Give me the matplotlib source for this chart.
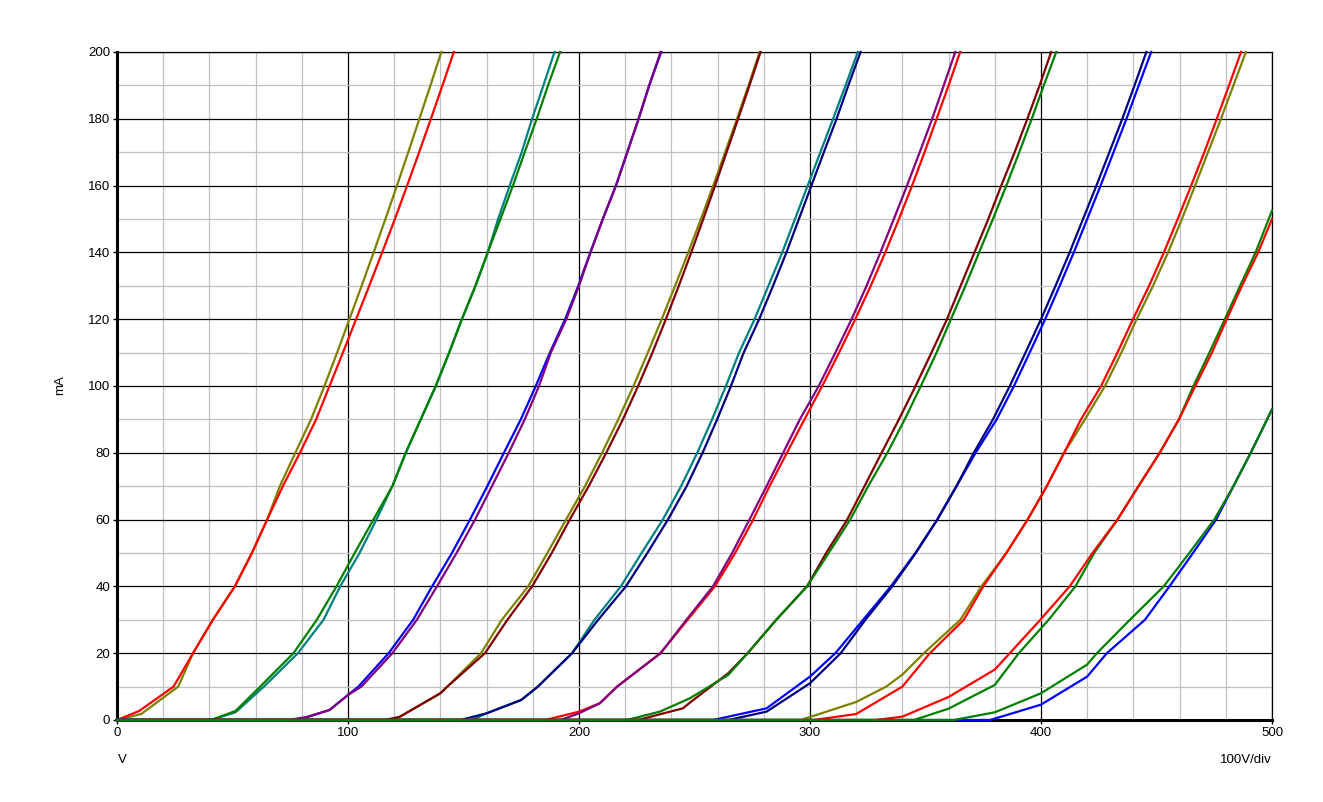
import numpy as np
import matplotlib
matplotlib.use("Agg")
import matplotlib.pyplot as plt

# plate curves: pairs of (V, mA) lists
lev = [20, 30, 40, 50, 60, 70, 80, 90, 100, 110, 120, 130, 140, 150, 160, 170, 180, 190, 200]

# pair 1
v1a = [0, 10.5, 26.5, 32.9, 41.5, 51, 58.4, 65, 70.5, 77.2, 84, 89.8, 95.3, 100.6, 105.9, 111.1, 116.2, 121.2, 126.1, 130.9, 135.7, 140.4]
i1a = [0, 1.8, 10] + lev
v1b = [0, 9.6, 24.5, 32.9, 41.5, 51, 58.4, 65, 71.8, 79.2, 86.2, 92, 97.8, 103.5, 109.2, 114.8, 120.3, 125.6, 130.8, 135.9, 140.9, 145.8]
i1b = [0, 2.7, 10] + lev
# pair 2
v2a = [0, 40.7, 51.3, 63.6, 78.3, 89.4, 96.6, 105, 112.3, 119.2, 125, 131.5, 138, 143.8, 149.3, 155.2, 160.5, 165, 170, 175.2, 179.7, 184.6, 189.4]
i2a = [0, 0, 2.3, 10] + lev
v2b = [0, 40.7, 51.3, 62, 76.4, 86.5, 95, 102.9, 111, 119.2, 125, 131.5, 138, 143.8, 149.3, 155.2, 160.5, 166, 171.4, 176.5, 181.7, 186.6, 191.8]
i2b = [0, 0, 2.7, 10] + lev
# pair 3
v3a = [0, 78, 92, 100, 104.5, 117.6, 128.2, 136.4, 145, 152.8, 160.3, 167.5, 174.8, 181.3, 187.4, 194, 199.7, 204.9, 210.3, 216, 220.9, 225.8, 230.4, 235.6]
i3a = [0, 0, 3, 7.5, 10] + lev
v3b = [0, 74.2, 83, 92, 100, 105.8, 119.2, 129.8, 138.5, 147, 155, 162.3, 169.6, 176.5, 182.7, 187.8, 194.5, 200, 205, 210.3, 216, 220.9, 225.8, 230.4, 235.3]
i3b = [0, 0, 1, 3, 7.5, 10] + lev
# pair 4
v4a = [0, 120, 140, 143, 157.6, 166.6, 178, 186.3, 194.4, 202.6, 210, 217, 223.6, 229.8, 235.8, 241.6, 247.3, 252.8, 258.1, 263.3, 268.4, 273.4, 278.2]
i4a = [0, 0, 8, 10] + lev
v4b = [0, 116, 122.5, 140, 143, 159.3, 169, 179.7, 188.2, 196, 204.2, 211.8, 219, 225.6, 231.8, 237.6, 243.2, 248.6, 253.8, 258.9, 263.9, 268.9, 273.8, 278.6]
i4b = [0, 0, 1, 8, 10] + lev
# pair 5
v5a = [0, 153.6, 160, 175, 182.2, 197, 206.7, 218.1, 227.1, 236.3, 244.2, 251.2, 257.6, 263.6, 269.3, 276, 282, 288, 293.5, 299, 304.5, 310, 315.4, 320.7]
i5a = [0, 0, 2, 6, 10] + lev
v5b = [0, 148.6, 160, 175, 182.2, 197, 208.3, 220.3, 229.6, 238.5, 246.6, 253.5, 259.8, 265.8, 271.3, 278, 284, 289.8, 295.2, 300.6, 306, 311.5, 316.6, 321.9]
i5b = [0, 0, 2, 6, 10] + lev
# pair 6
v6a = [0, 185.4, 200, 209, 216.5, 235.3, 247, 258.8, 267.6, 275.4, 282.5, 290, 297.6, 305.3, 312.6, 319.6, 326.3, 332.6, 338.5, 344.2, 349.6, 354.8, 360, 365]
i6a = [0, 0, 2.5, 5, 10] + lev
v6b = [0, 192, 200, 209, 216.5, 235.3, 246.5, 258, 266.3, 273.8, 281.2, 288.4, 295.6, 303.8, 311, 318, 324.5, 330.5, 336.3, 342, 347.5, 352.9, 357.9, 362.9]
i6b = [0, 0, 2, 5, 10] + lev
# pair 7
v7a = [0, 225.5, 245, 248, 264.6, 273, 285.4, 298.7, 307, 316.1, 323.6, 331, 338.5, 345.7, 352.6, 359.3, 365.2, 371.2, 377.2, 382.8, 388.6, 394.1, 399.4, 404.4]
i7a = [0, 0, 3.5, 5.2, 14] + lev
v7b = [0, 220.6, 235, 248, 264.6, 273, 285.4, 298.7, 308.1, 317.4, 325.2, 333.5, 341, 348, 354.8, 361, 367.3, 373.2, 379.2, 385, 390.6, 396, 401.2, 406.6]
i7b = [0, 0, 2.5, 6.5, 13.5] + lev
# pair 8
v8a = [0, 258, 281.2, 300, 311, 323, 335, 345.6, 355.1, 363.4, 371.7, 380.8, 388.3, 395.1, 401.8, 408.1, 414.2, 420, 425.8, 431.4, 437, 442.3, 447.7]
i8a = [0, 0, 3.5, 13] + lev
v8b = [0, 264.6, 281.2, 300, 313.3, 324, 335.6, 345.8, 355.1, 363.4, 370.9, 379.2, 386.5, 393.3, 400, 406.3, 412.4, 418.2, 424, 429.6, 435.2, 440.5, 445.6]
i8b = [0, 0, 2.5, 11] + lev
# pair 9
v9a = [0, 296, 320, 333, 340, 349.3, 365.1, 374.2, 385, 394.2, 402.5, 410, 419, 427.7, 434.8, 441.4, 448.5, 455, 461, 466.7, 472.3, 477.9, 483.3, 488.7]
i9a = [0, 0, 5.4, 10, 13.6] + lev
v9b = [0, 301.7, 320, 340, 351.9, 366.6, 375, 385, 394.2, 402.5, 410, 417.3, 426, 433.1, 439.8, 446.8, 453.2, 459.2, 465, 470.7, 476.1, 481.4, 486.6]
i9b = [0, 0, 1.8, 10] + lev
# pair 10
v10a = [0, 345, 360, 380, 390.4, 403.3, 414.9, 423, 433.1, 442.2, 451.4, 459.7, 466, 472.9, 479.6, 486.2, 492.9, 500]
i10a = [0, 0, 3.4, 10.5, 20, 30, 40, 50, 60, 70, 80, 90, 100, 110, 120, 130, 140, 152.5]
v10b = [0, 328.4, 340, 360, 380, 386.5, 399.7, 412.4, 422.3, 433.1, 442.2, 451.4, 459.7, 466.8, 474, 480.4, 487, 494, 500]
i10b = [0, 0, 1, 6.9, 15.1, 20, 30, 40, 50, 60, 70, 80, 90, 100, 110, 120, 130, 140, 150]
# pair 11
v11a = [0, 378, 400, 420, 428.5, 445, 455.6, 465.8, 475.8, 483.3, 490.8, 500]
i11a = [0, 0, 4.6, 13, 20, 30, 40, 50, 60, 70, 80, 93]
v11b = [0, 362.2, 380, 400, 420, 424.2, 438.5, 453.1, 464.2, 475, 483.3, 490.8, 500]
i11b = [0, 0, 2.3, 8, 16.6, 20, 30, 40, 50, 60, 70, 80, 93]

olive, red, teal, green = "#808000", "#ff0000", "#008080", "#008000"
blue, purple, maroon, navy = "#0000ff", "#800080", "#800000", "#000080"

curves = [
    (v1a, i1a, olive), (v1b, i1b, red),
    (v2a, i2a, teal), (v2b, i2b, green),
    (v3a, i3a, blue), (v3b, i3b, purple),
    (v4a, i4a, olive), (v4b, i4b, maroon),
    (v5a, i5a, teal), (v5b, i5b, navy),
    (v6a, i6a, red), (v6b, i6b, purple),
    (v7a, i7a, maroon), (v7b, i7b, green),
    (v8a, i8a, blue), (v8b, i8b, navy),
    (v9a, i9a, olive), (v9b, i9b, red),
    (v10a, i10a, green), (v10b, i10b, red),
    (v11a, i11a, blue), (v11b, i11b, green),
]

plt.rcParams['font.family'] = ['Liberation Sans', 'DejaVu Sans']

fig = plt.figure(figsize=(13.23, 8.02), dpi=100)
ax = fig.add_axes([117/1323, 1 - 720/802, 1155/1323, 668/802])

for v, i, c in curves:
    ax.plot(v, i, color=c, lw=1.6, solid_joinstyle="round", clip_on=False, zorder=3)

ax.set_xlim(0, 500)
ax.set_ylim(0, 200)
ax.set_xticks(np.arange(0, 501, 100))
ax.set_yticks(np.arange(0, 201, 20))
ax.set_xticks(np.arange(0, 501, 20), minor=True)
ax.set_yticks(np.arange(0, 201, 10), minor=True)
ax.grid(True, which="minor", color="#c0c0c0", lw=0.9)
ax.grid(True, which="major", color="black", lw=0.9)
ax.set_axisbelow(True)
ax.tick_params(which="major", direction="out", length=3, width=1, labelsize=9.5, pad=2)
ax.tick_params(which="minor", length=0)

for s in ["top", "right"]:
    ax.spines[s].set_linewidth(0.9)
for s in ["left", "bottom"]:
    ax.spines[s].set_linewidth(2.2)

fig.text(60/1323, 1 - 385/802, "mA", rotation=90, ha="center", va="center", fontsize=9.5)
fig.text(118/1323, 1 - 760/802, "V", ha="left", va="center", fontsize=9.5)
fig.text(1272/1323, 1 - 760/802, "100V/div", ha="right", va="center", fontsize=9.5)

fig.savefig("out.png", dpi=100)
